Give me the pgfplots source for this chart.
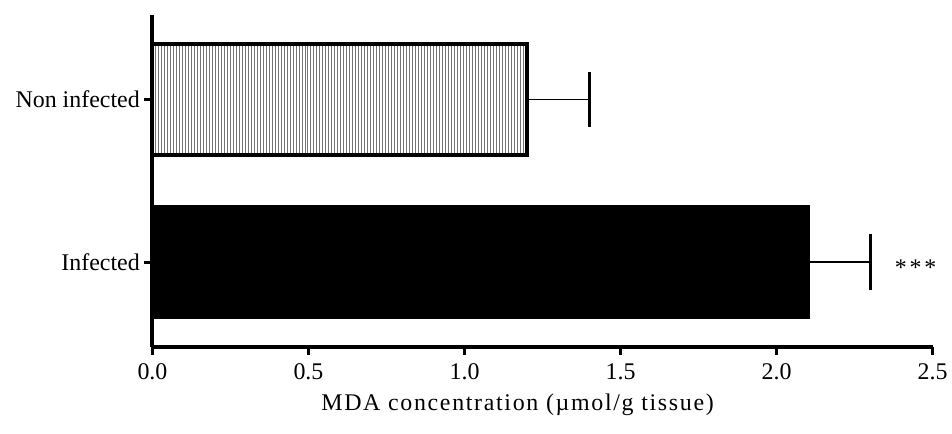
\documentclass[border=0pt]{standalone}
\usepackage{fontspec}
\setmainfont{Liberation Serif}
\usepackage{pgfplots}
\pgfplotsset{compat=1.18}
\usetikzlibrary{patterns.meta}

\newcommand{\lbl}{\fontsize{18}{21.6}\selectfont}

\begin{document}
\begin{tikzpicture}
\begin{axis}[
    scale only axis,
    width=587.25pt,
    height=249.75pt,
    xbar,
    bar width=83pt,
    xmin=0, xmax=2.5,
    ymin=-0.52, ymax=1.52,
    axis lines=left,
    axis line style={-, line width=3pt},
    tick align=outside,
    major tick length=6pt,
    tick style={line width=2.2pt, black},
    xtick={0,0.5,...,2.5},
    ytick={0,1},
    yticklabels={Infected, Non infected},
    /pgf/number format/.cd, fixed, fixed zerofill, precision=1, assume math mode=true,
    /pgfplots/.cd,
    tick label style={font=\lbl},
    xticklabel style={yshift=-3pt},
    xlabel={\addfontfeature{LetterSpace=7}MDA concentration (µmol/g tissue)},
    xlabel style={font=\lbl, at={(axis description cs:0.468,-0.175)}, anchor=center},
    clip=false,
]
\addplot+[
    bar shift=0pt,
    draw=black, line width=3pt,
    pattern={Lines[angle=90, distance=2.25pt, line width=0.6pt]},
    pattern color=black!55,
    error bars/.cd, x dir=plus, x explicit,
    error bar style={line width=1.5pt, black},
    error mark options={rotate=90, mark size=21pt, line width=2.2pt, black},
] coordinates {(1.20,1) +- (0.20,0)};
\addplot+[
    bar shift=0pt,
    draw=black, fill=black, line width=3pt,
    error bars/.cd, x dir=plus, x explicit,
    error bar style={line width=1.5pt, black},
    error mark options={rotate=90, mark size=21pt, line width=2.2pt, black},
] coordinates {(2.10,0) +- (0.20,0)};
\node[anchor=west, font=\lbl, xshift=15pt, yshift=-4pt] at (axis cs:2.3,0) {\addfontfeature{LetterSpace=12}***};
\path (rel axis cs:-0.1954,-0.261) rectangle (rel axis cs:1.0204,1.045);
\end{axis}
\end{tikzpicture}
\end{document}
